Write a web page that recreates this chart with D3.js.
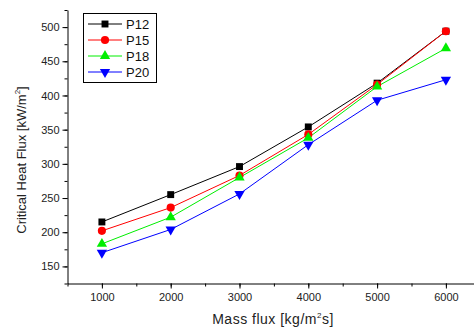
<!DOCTYPE html>
<html>
<head>
<meta charset="utf-8">
<style>
body { margin: 0; background: #fff; }
svg { display: block; font-family: Arial, "Liberation Sans", sans-serif; }
.tick text { fill: #222; font-size: 11px; }
.domain, .tick line { stroke: #000; }
</style>
</head>
<body>
<svg id="chart" width="474" height="327"></svg>
<script src="https://cdn.jsdelivr.net/npm/d3@7"></script>
<script>
const massFlux = [1000, 2000, 3000, 4000, 5000, 6000];
const p12 = [215, 255, 296, 354, 418, 494];
const p15 = [202, 236, 283, 343, 416, 494];
const p18 = [183, 222, 280, 338, 413, 469];
const p20 = [170, 204, 256, 328, 393, 423];
const seriesNames = ["P12", "P15", "P18", "P20"];
const xTicks = [1000, 2000, 3000, 4000, 5000, 6000];
const yTicks = [150, 200, 250, 300, 350, 400, 450, 500];

const series = [
  { name: "P12", values: p12, color: "#000000", symbol: d3.symbolSquare, size: 48, rot: 0 },
  { name: "P15", values: p15, color: "#ff0000", symbol: d3.symbolCircle, size: 52, rot: 0 },
  { name: "P18", values: p18, color: "#00ee00", symbol: d3.symbolTriangle, size: 46, rot: 0 },
  { name: "P20", values: p20, color: "#0000ff", symbol: d3.symbolTriangle, size: 46, rot: 180 }
];

const svg = d3.select("#chart");
const plotLeft = 67.5, plotBottom = 283.5, plotTop = 10;

const x = d3.scaleLinear().domain([500, 6500]).range([plotLeft, plotLeft + 6000 * 0.0688]);
const y = d3.scaleLinear().domain([125, 525]).range([plotBottom, plotTop]);

// minor ticks
svg.append("g").attr("transform", `translate(0,${plotBottom})`)
  .call(d3.axisBottom(x).tickValues(d3.range(500, 6600, 500)).tickSize(3).tickFormat(""))
  .call(g => g.select(".domain").remove());
svg.append("g").attr("transform", `translate(${plotLeft},0)`)
  .call(d3.axisLeft(y).tickValues(d3.range(125, 526, 25)).tickSize(3).tickFormat(""))
  .call(g => g.select(".domain").remove());

svg.append("g").attr("transform", `translate(0,${plotBottom})`)
  .call(d3.axisBottom(x).tickValues(xTicks).tickFormat(d3.format("d"))
    .tickSize(5).tickSizeOuter(0).tickPadding(5));
svg.append("g").attr("transform", `translate(${plotLeft},0)`)
  .call(d3.axisLeft(y).tickValues(yTicks).tickSize(5).tickSizeOuter(0).tickPadding(3));

// axis titles
const xt = svg.append("text").attr("x", 273).attr("y", 324).attr("text-anchor", "middle")
  .attr("font-size", 14).attr("letter-spacing", 0.5).attr("fill", "#222");
xt.append("tspan").text("Mass flux [kg/m");
xt.append("tspan").attr("font-size", 8).attr("dy", -6).text("2");
xt.append("tspan").attr("dy", 6).text("s]");

const yt = svg.append("text").attr("transform", "translate(26,160) rotate(-90)")
  .attr("text-anchor", "middle").attr("font-size", 13).attr("fill", "#222");
yt.append("tspan").text("Critical Heat Flux [kW/m");
yt.append("tspan").attr("font-size", 8).attr("dy", -6).text("2");
yt.append("tspan").attr("dy", 6).text("]");

const line = d3.line().x((d, i) => x(massFlux[i])).y(d => y(d));

series.forEach(s => {
  svg.append("path").datum(s.values).attr("d", line)
    .attr("fill", "none").attr("stroke", s.color).attr("stroke-width", 1);
});
series.forEach(s => {
  svg.append("g").selectAll("path").data(s.values).join("path")
    .attr("d", d3.symbol().type(s.symbol).size(s.size))
    .attr("transform", (d, i) => `translate(${x(massFlux[i])},${y(d)}) rotate(${s.rot})`)
    .attr("fill", s.color);
});

// legend
const lg = svg.append("g");
lg.append("rect").attr("x", 83.5).attr("y", 13.5).attr("width", 73).attr("height", 69)
  .attr("fill", "#fff").attr("stroke", "#000");
series.forEach((s, i) => {
  const yy = 24 + i * 16;
  lg.append("line").attr("x1", 88).attr("x2", 122).attr("y1", yy).attr("y2", yy)
    .attr("stroke", s.color);
  lg.append("path").attr("d", d3.symbol().type(s.symbol).size(s.size)())
    .attr("transform", `translate(105,${yy}) rotate(${s.rot})`).attr("fill", s.color);
  lg.append("text").attr("x", 126).attr("y", yy + 5).attr("font-size", 13)
    .attr("fill", "#111").text(seriesNames[i]);
});
</script>
</body>
</html>
